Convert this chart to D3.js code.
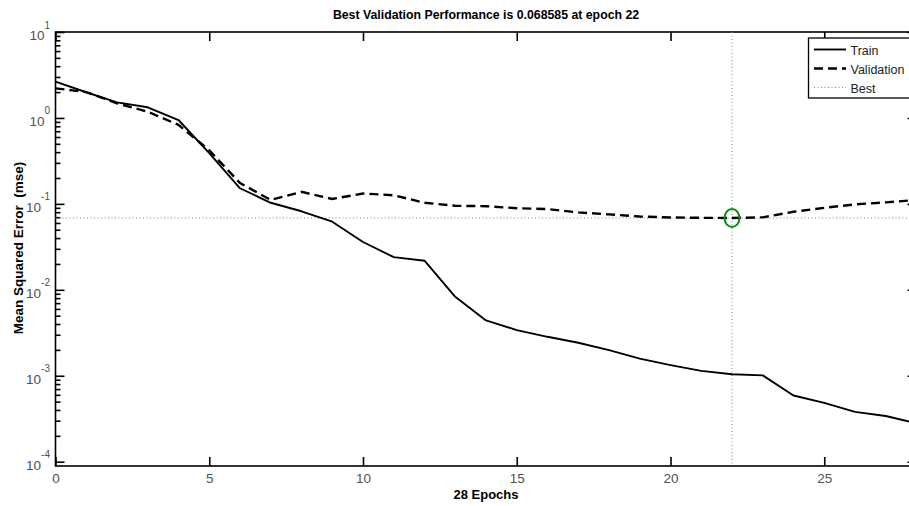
<!DOCTYPE html>
<html>
<head>
<meta charset="utf-8">
<script src="https://cdn.jsdelivr.net/npm/d3@7"></script>
<style>
  html, body { margin: 0; padding: 0; background: #fff; }
  svg { display: block; font-family: "Liberation Sans", Arial, sans-serif; }
</style>
</head>
<body>
<svg id="chart" width="909" height="506"></svg>
<script>
// ---- data ----
const epochs = [0,1,2,3,4,5,6,7,8,9,10,11,12,13,14,15,16,17,18,19,20,21,22,23,24,25,26,27,28];
const trainPerf = [2.64,1.99,1.52,1.33,0.946,0.39,0.152,0.103,0.082,0.062,0.036,0.024,0.0218,0.0083,0.0044,0.0034,0.00284,0.00242,0.00199,0.00158,0.00133,0.00114,0.00104,0.00101,0.00059,0.000484,0.00038,0.00034,0.00028];
const valPerf = [2.21,2.0,1.48,1.18,0.83,0.42,0.175,0.111,0.138,0.114,0.132,0.126,0.103,0.095,0.094,0.089,0.087,0.0796,0.0755,0.0712,0.0695,0.0688,0.068585,0.0697,0.081,0.090,0.0987,0.104,0.111];
const bestEpoch = 22;
const bestPerf = 0.068585;
const xTicks = [0,5,10,15,20,25];
const yMajor = [1e-4,1e-3,1e-2,1e-1,1,10];
const yExponents = ["-4","-3","-2","-1","0","1"];
const legendLabels = ["Train","Validation","Best"];
const titleText = "Best Validation Performance is 0.068585 at epoch 22";
const xLabel = "28 Epochs";
const yLabel = "Mean Squared Error  (mse)";

// ---- layout ----
const L = 55.5, R = 916.5, T = 32, B = 466;
const svg = d3.select("#chart");
svg.append("rect").attr("width",909).attr("height",506).attr("fill","#fff");

const x = d3.scaleLinear().domain([0,28]).range([L,R]);
const y = d3.scaleLog().domain([Math.pow(10,-4.05),10]).range([B,T]);

// minor y ticks
const yMinor = [];
[-4,-3,-2,-1,0].forEach(e => { for (let k=2;k<=9;k++) yMinor.push(k*Math.pow(10,e)); });

function styleAxis(g){
  g.select(".domain").remove();
  g.selectAll(".tick line").attr("stroke","#000").attr("stroke-width",1.6);
}

// frame
svg.append("rect").attr("x",L).attr("y",T).attr("width",R-L).attr("height",B-T)
  .attr("fill","none").attr("stroke","#000").attr("stroke-width",1.6);

// y axes (inside ticks)
svg.append("g").attr("transform",`translate(${L},0)`)
  .call(d3.axisLeft(y).tickValues(yMajor).tickSize(-9).tickFormat("")).call(styleAxis);
svg.append("g").attr("transform",`translate(${L},0)`)
  .call(d3.axisLeft(y).tickValues(yMinor).tickSize(-5).tickFormat("")).call(styleAxis);
svg.append("g").attr("transform",`translate(${R},0)`)
  .call(d3.axisRight(y).tickValues(yMajor).tickSize(-9).tickFormat("")).call(styleAxis);
svg.append("g").attr("transform",`translate(${R},0)`)
  .call(d3.axisRight(y).tickValues(yMinor).tickSize(-5).tickFormat("")).call(styleAxis);

// x axes
const xb = svg.append("g").attr("transform",`translate(0,${B})`)
  .call(d3.axisBottom(x).tickValues(xTicks).tickSize(-9).tickPadding(6).tickFormat(d3.format("d")));
styleAxis(xb);
xb.selectAll(".tick text").attr("font-size","13.5px").attr("fill","#505050")
  .attr("font-family","Liberation Sans, Arial, sans-serif").attr("y",7).attr("dy","0.71em");
svg.append("g").attr("transform",`translate(0,${T})`)
  .call(d3.axisTop(x).tickValues(xTicks).tickSize(-9).tickFormat("")).call(styleAxis);

// y tick labels with superscripts
yMajor.forEach((v,i) => {
  const t = svg.append("text").attr("x",50).attr("y",y(v)+8)
    .attr("text-anchor","end").attr("fill","#505050").attr("font-size","13.5px");
  t.append("tspan").text("10");
  t.append("tspan").attr("dy",-11.5).attr("font-size","10px").text(yExponents[i]);
});

// best lines
svg.append("line").attr("x1",L).attr("x2",R).attr("y1",y(bestPerf)).attr("y2",y(bestPerf))
  .attr("stroke","#5f9a6a").attr("stroke-width",1).attr("stroke-dasharray","1,2.5");
svg.append("line").attr("x1",x(bestEpoch)).attr("x2",x(bestEpoch)).attr("y1",T).attr("y2",B)
  .attr("stroke","#5f9a6a").attr("stroke-width",1).attr("stroke-dasharray","1,2.5");

// series
const line = d3.line().x((d,i)=>x(epochs[i])).y(d=>y(d));
svg.append("path").datum(trainPerf).attr("d",line).attr("fill","none")
  .attr("stroke","#000").attr("stroke-width",1.9).attr("stroke-linejoin","round");
svg.append("path").datum(valPerf).attr("d",line).attr("fill","none")
  .attr("stroke","#000").attr("stroke-width",2.4).attr("stroke-dasharray","9,5");

// best marker
svg.append("ellipse").attr("cx",x(bestEpoch)).attr("cy",y(bestPerf)).attr("rx",7.5).attr("ry",9)
  .attr("fill","none").attr("stroke","#138a1e").attr("stroke-width",2);

// legend
const lg = svg.append("g");
lg.append("rect").attr("x",808.5).attr("y",38).attr("width",103).attr("height",60)
  .attr("fill","#fff").attr("stroke","#000").attr("stroke-width",1.3);
const lgY = [49.5,68.5,87.5];
const lgStyles = [
  {stroke:"#000", w:1.9, dash:null},
  {stroke:"#000", w:2.4, dash:"9,5"},
  {stroke:"#5f9a6a", w:1, dash:"1,2.5"}
];
legendLabels.forEach((lab,i) => {
  const ln = lg.append("line").attr("x1",814).attr("x2",846).attr("y1",lgY[i]).attr("y2",lgY[i])
    .attr("stroke",lgStyles[i].stroke).attr("stroke-width",lgStyles[i].w);
  if (lgStyles[i].dash) ln.attr("stroke-dasharray",lgStyles[i].dash);
  lg.append("text").attr("x",850.5).attr("y",lgY[i]+5).attr("font-size","12.5px")
    .attr("fill","#222").text(lab);
});

// titles
svg.append("text").attr("x",(L+R)/2).attr("y",19).attr("text-anchor","middle")
  .attr("font-weight","bold").attr("font-size","12.3px").attr("fill","#000").text(titleText);
svg.append("text").attr("x",(L+R)/2).attr("y",499).attr("text-anchor","middle")
  .attr("font-weight","bold").attr("font-size","13px").attr("fill","#000").text(xLabel);
svg.append("text").attr("transform","translate(22.5,248) rotate(-90)").attr("text-anchor","middle")
  .attr("font-weight","bold").attr("font-size","13.5px").attr("fill","#000")
  .attr("xml:space","preserve").style("white-space","pre").text(yLabel);
</script>
</body>
</html>
